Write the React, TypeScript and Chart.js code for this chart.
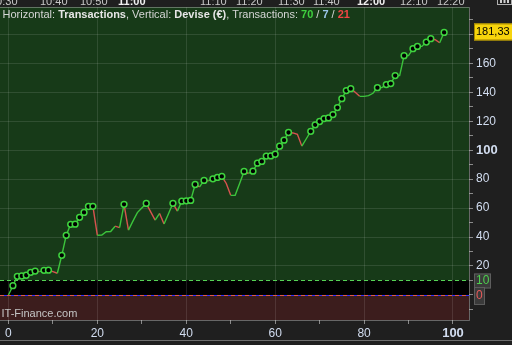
import React, { useEffect, useRef } from 'react';
import { Chart, registerables } from 'chart.js';

Chart.register(...registerables);

// ---- data ----
const equity: number[] = [
  0, 6.4, 12.9, 13.1, 13.6, 15.6, 16.5, 16.1, 17.0, 17.1,
  16.1, 15.0, 27.4, 41.2, 48.8, 48.9, 53.6, 57.0, 61.1, 61.2,
  41.2, 41.3, 43.7, 43.8, 47.5, 46.5, 62.6, 44.8, 51.0, 56.9,
  60.0, 63.2, 57.4, 51.7, 56.3, 49.0, 56.1, 63.3, 57.9, 64.8,
  65.0, 65.3, 76.3, 74.7, 79.1, 78.8, 80.2, 81.2, 81.9, 77.0,
  68.8, 68.8, 77.0, 85.3, 83.9, 85.5, 91.0, 92.2, 95.9, 96.0,
  97.2, 102.8, 106.9, 112.2, 111.9, 111.0, 102.8, 107.9, 113.0, 117.5,
  119.8, 121.8, 122.3, 124.6, 129.4, 135.6, 141.2, 142.5, 140.0, 137.2,
  137.2, 137.7, 139.3, 143.2, 143.2, 145.3, 146.0, 151.5, 151.5, 165.3,
  165.3, 170.1, 171.7, 171.7, 174.7, 177.0, 176.3, 174.2, 181.33,
];
const xTickLabels = [0, 20, 40, 60, 80, 100];
const yTickLabels = [20, 40, 60, 80, 100, 120, 140, 160];
const zoneLevels = [10, 0];
const lastValueText = '181,33';
const winCount = '70';
const flatCount = '7';
const lossCount = '21';
const timeLabels = ['10:30', '10:40', '10:50', '11:00', '11:10', '11:20', '11:30', '11:40', '12:00', '12:10', '12:20'];
const timeLabelX = [-10, 40, 80, 118, 200, 236, 278, 313, 357, 400, 437];
const boldTimes = ['11:00', '12:00'];

const FONT = "'Liberation Sans', Arial, sans-serif";
const X_MIN = -1.9, X_MAX = 103.6, Y_MIN = -17.3, Y_MAX = 198.9;

const GREEN_LINE = '#3cc43c';
const RED_LINE = '#d9534f';
const LABEL = '#d2ddf0';

const overlay = {
  id: 'overlay',
  beforeDraw(chart: any) {
    const { ctx, chartArea: a, scales } = chart;
    const y = scales.y;
    ctx.save();
    ctx.fillStyle = '#1f1f1f';
    ctx.fillRect(0, 0, chart.width, chart.height);
    const y10 = y.getPixelForValue(zoneLevels[0]);
    const y0 = y.getPixelForValue(zoneLevels[1]);
    ctx.fillStyle = '#173a18';
    ctx.fillRect(a.left, a.top, a.right - a.left, y10 - a.top);
    ctx.fillStyle = '#000000';
    ctx.fillRect(a.left, y10, a.right - a.left, y0 - y10);
    ctx.fillStyle = '#3c1d1d';
    ctx.fillRect(a.left, y0, a.right - a.left, a.bottom - y0);
    ctx.restore();
  },
  beforeDatasetsDraw(chart: any) {
    const { ctx, chartArea: a, scales } = chart;
    const y = scales.y;
    const y10 = Math.round(y.getPixelForValue(zoneLevels[0])) + 0.5;
    const y0 = Math.round(y.getPixelForValue(zoneLevels[1])) + 0.5;
    ctx.save();
    ctx.lineWidth = 1;
    ctx.setLineDash([4, 3]);
    ctx.strokeStyle = '#55d455';
    ctx.beginPath(); ctx.moveTo(a.left, y10); ctx.lineTo(a.right, y10); ctx.stroke();
    ctx.setLineDash([]);
    ctx.strokeStyle = '#3030ff';
    ctx.beginPath(); ctx.moveTo(a.left, y0); ctx.lineTo(a.right, y0); ctx.stroke();
    ctx.setLineDash([4, 3]);
    ctx.strokeStyle = '#e05a4a';
    ctx.beginPath(); ctx.moveTo(a.left, y0); ctx.lineTo(a.right, y0); ctx.stroke();
    ctx.setLineDash([]);
    // plot border
    ctx.strokeStyle = 'rgba(190,190,190,0.45)';
    ctx.beginPath();
    ctx.moveTo(a.left, a.top + 0.5); ctx.lineTo(a.right + 0.5, a.top + 0.5);
    ctx.lineTo(a.right + 0.5, a.bottom + 0.5); ctx.lineTo(a.left, a.bottom + 0.5);
    ctx.stroke();
    ctx.restore();
  },
  afterDraw(chart: any) {
    const { ctx, chartArea: a, scales } = chart;
    const y = scales.y;
    ctx.save();
    // time strip at the very top (cut off)
    ctx.textBaseline = 'alphabetic';
    timeLabels.forEach((t, i) => {
      const b = boldTimes.includes(t);
      ctx.font = `${b ? 'bold ' : ''}11px ${FONT}`;
      ctx.fillStyle = b ? '#f0f0f0' : '#c8c8c8';
      ctx.fillText(t, timeLabelX[i], 5);
    });
    // icon top right
    ctx.strokeStyle = '#b0b0b0';
    ctx.lineWidth = 1;
    ctx.strokeRect(497.5, -3.5, 14, 8);
    ctx.fillStyle = '#d0d0d0';
    for (let k = 0; k < 3; k++) ctx.fillRect(500 + k * 3.5, -1, 2, 4);

    // header text
    const parts: [string, boolean, string][] = [
      ['Horizontal: ', false, '#d6d6d6'],
      ['Transactions', true, '#e6e6e6'],
      [', Vertical: ', false, '#d6d6d6'],
      ['Devise (€)', true, '#e6e6e6'],
      [', Transactions: ', false, '#d6d6d6'],
      [winCount, true, '#3fd03f'],
      [' / ', false, '#d6d6d6'],
      [flatCount, true, '#9cc6ea'],
      [' / ', false, '#d6d6d6'],
      [lossCount, true, '#f04545'],
    ];
    let x = a.left + 2.5;
    ctx.textBaseline = 'middle';
    ctx.textAlign = 'left';
    for (const [t, b, c] of parts) {
      ctx.font = `${b ? 'bold ' : ''}11px ${FONT}`;
      ctx.fillStyle = c;
      ctx.fillText(t, x, a.top + 8);
      x += ctx.measureText(t).width;
    }

    // watermark
    ctx.font = `11px ${FONT}`;
    ctx.fillStyle = '#c4c4c4';
    ctx.fillText('IT-Finance.com', a.left + 1.5, a.bottom - 6);

    // value boxes on the right axis
    const bx = a.right + 5;
    const lastY = y.getPixelForValue(equity[equity.length - 1]);
    ctx.fillStyle = '#f7d40c';
    ctx.fillRect(bx, lastY - 9, 40, 17);
    ctx.strokeStyle = '#a88a00';
    ctx.strokeRect(bx + 0.5, lastY - 8.5, 40, 16);
    ctx.fillStyle = '#000';
    ctx.font = `11px ${FONT}`;
    ctx.fillText(lastValueText, bx + 2, lastY);

    const y10 = y.getPixelForValue(zoneLevels[0]);
    const y0 = y.getPixelForValue(zoneLevels[1]);
    ctx.fillStyle = '#3a3a3a';
    ctx.fillRect(bx, y10 - 7, 17, 15);
    ctx.strokeStyle = '#5e5e5e';
    ctx.strokeRect(bx + 0.5, y10 - 6.5, 16, 14);
    ctx.fillStyle = '#3a3a3a';
    ctx.fillRect(bx, y0 - 8, 11, 18);
    ctx.strokeRect(bx + 0.5, y0 - 7.5, 10, 17);
    ctx.font = `12px ${FONT}`;
    ctx.fillStyle = '#4ed04e';
    ctx.fillText(String(zoneLevels[0]), bx + 2, y10 + 0.5);
    ctx.fillStyle = '#e85a5a';
    ctx.fillText(String(zoneLevels[1]), bx + 2, y0 + 1);

    // bottom separator
    ctx.strokeStyle = '#6e6e6e';
    ctx.beginPath(); ctx.moveTo(0, 340.5); ctx.lineTo(chart.width, 340.5); ctx.stroke();
    ctx.restore();
  },
};

export default function App() {
  const ref = useRef<HTMLCanvasElement>(null);
  useEffect(() => {
    document.body.style.margin = '0';
    document.body.style.background = '#1f1f1f';
    Chart.defaults.font.family = FONT;
    let runMax = -Infinity;
    const radii = equity.map((v, i) => {
      const isHigh = i > 0 && v > runMax;
      runMax = Math.max(runMax, v);
      return isHigh ? 2.9 : 0;
    });
    const chart = new Chart(ref.current!, {
      type: 'line',
      data: {
        datasets: [
          {
            data: equity.map((v, i) => ({ x: i, y: v })),
            borderColor: GREEN_LINE,
            borderWidth: 1.4,
            pointRadius: radii,
            pointBackgroundColor: '#000000',
            pointBorderColor: '#3fd43f',
            pointBorderWidth: 1.5,
            tension: 0,
            clip: 0,
            segment: {
              borderColor: (c: any) => (c.p1.parsed.y < c.p0.parsed.y ? RED_LINE : GREEN_LINE),
            },
          },
        ],
      },
      options: {
        responsive: false,
        animation: false,
        devicePixelRatio: 1,
        events: [],
        layout: { autoPadding: false, padding: { top: 7, left: 0, right: 0, bottom: 0 } },
        plugins: { legend: { display: false }, tooltip: { enabled: false } },
        scales: {
          x: {
            type: 'linear',
            position: 'bottom',
            min: X_MIN,
            max: X_MAX,
            afterFit: (s: any) => { s.height = 25; s.paddingLeft = 0; s.paddingRight = 0; },
            border: { display: false },
            grid: {
              color: (c: any) => (c.tick && xTickLabels.includes(c.tick.value) ? 'rgba(255,255,255,0.11)' : 'rgba(0,0,0,0)'),
              tickColor: '#8a8a8a',
              tickLength: 4,
            },
            ticks: {
              stepSize: 10,
              includeBounds: false,
              autoSkip: false,
              maxRotation: 0,
              padding: 2,
              color: LABEL,
              font: (c: any) => (c.tick && c.tick.value === 100 ? { size: 13, weight: 'bold' } : { size: 12 }),
              callback: (v: any) => (xTickLabels.includes(v) ? String(v) : ''),
            },
          },
          y: {
            type: 'linear',
            position: 'right',
            min: Y_MIN,
            max: Y_MAX,
            afterFit: (s: any) => { s.width = 43; s.paddingTop = 0; s.paddingBottom = 0; },
            border: { display: false },
            grid: {
              color: (c: any) => (c.tick && c.tick.value >= 20 && c.tick.value % 20 === 0 ? 'rgba(255,255,255,0.11)' : 'rgba(0,0,0,0)'),
              tickColor: '#8a8a8a',
              tickLength: 4,
            },
            ticks: {
              stepSize: 10,
              includeBounds: false,
              autoSkip: false,
              padding: 3,
              color: LABEL,
              font: (c: any) => (c.tick && c.tick.value === 100 ? { size: 13, weight: 'bold' } : { size: 12 }),
              callback: (v: any) => (yTickLabels.includes(v) ? String(v) : ''),
            },
          },
        },
      },
      plugins: [overlay],
    } as any);
    return () => chart.destroy();
  }, []);
  return (
    <canvas
      ref={ref}
      width={512}
      height={345}
      style={{ position: 'fixed', left: 0, top: 0, width: 512, height: 345 }}
    />
  );
}
